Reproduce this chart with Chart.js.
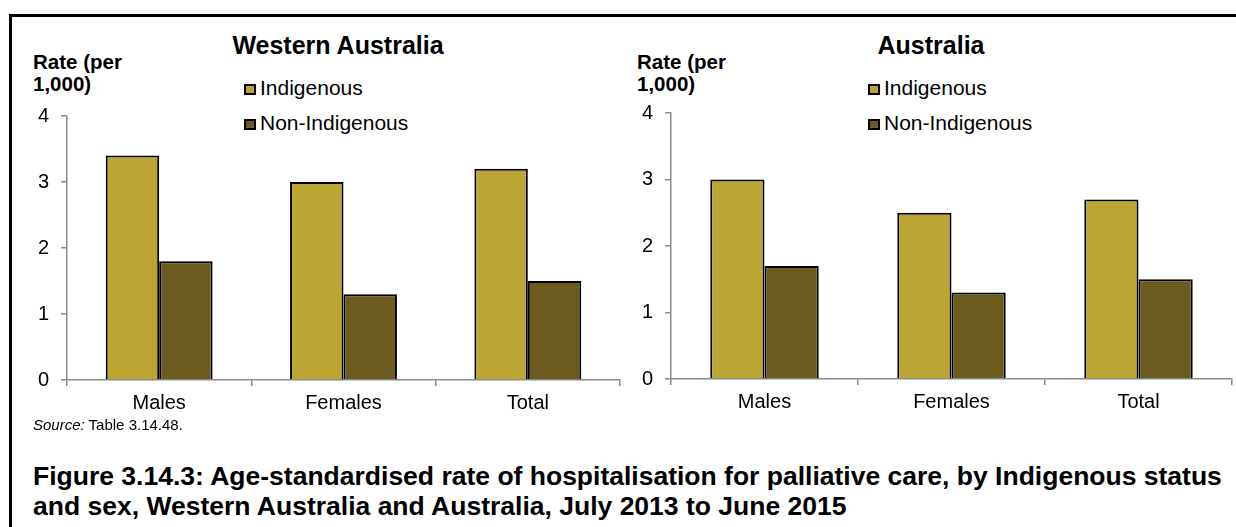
<!DOCTYPE html>
<html>
<head>
<meta charset="utf-8">
<title>Figure 3.14.3</title>
<script src="https://cdn.jsdelivr.net/npm/chart.js"></script>
<style>
  body { margin: 0; background: #fff; font-family: "Liberation Sans", Arial, sans-serif; }
  #page { position: relative; width: 1236px; height: 527px; overflow: hidden; background: #fff; }
  #frame { position: absolute; left: 9px; top: 14px; width: 1300px; height: 600px;
           border-top: 3px solid #000; border-left: 3px solid #000; }
  .txt { position: absolute; white-space: nowrap; color: #000; }
  .title { font-weight: bold; font-size: 25px; line-height: 25px; transform: translateX(-50%); }
  .ytitle { font-weight: bold; font-size: 20.5px; line-height: 22px; }
  .legtext { font-size: 21px; line-height: 21px; }
  .swatch { position: absolute; width: 12px; height: 11px; box-sizing: border-box; border: 2px solid #000; }
  .source { font-size: 15px; line-height: 15px; }
  .caption { font-weight: bold; font-size: 26.5px; line-height: 30px; }
  canvas { position: absolute; top: 0; }
</style>
</head>
<body>
<div id="page">
  <div id="frame"></div>

  <div class="txt title" style="left:338px; top:33px;">Western Australia</div>
  <div class="txt title" style="left:931px; top:33px;">Australia</div>

  <div class="txt ytitle" style="left:33px; top:51px;">Rate (per<br>1,000)</div>
  <div class="txt ytitle" style="left:637px; top:51px;">Rate (per<br>1,000)</div>

  <div id="legendLeft"></div>
  <div id="legendRight"></div>

  <canvas id="chartWA" width="625" height="430" style="left:0px;"></canvas>
  <canvas id="chartAUS" width="636" height="430" style="left:600px;"></canvas>

  <div class="txt source" style="left:33px; top:417px;"><i>Source:</i> Table 3.14.48.</div>
  <div class="txt caption" style="left:33px; top:461px;">Figure 3.14.3: Age-standardised rate of hospitalisation for palliative care, by Indigenous status<br>and sex, Western Australia and Australia, July 2013 to June 2015</div>
</div>

<script>
// Chart data
const categories = ["Males", "Females", "Total"];
const seriesNames = ["Indigenous", "Non-Indigenous"];
const seriesColors = ["#BBA634", "#6B5B1E"];

// Western Australia, rate per 1,000
const waIndigenous = [3.4, 3.0, 3.2];
const waNonIndigenous = [1.8, 1.3, 1.5];

// Australia, rate per 1,000
const ausIndigenous = [3.0, 2.5, 2.7];
const ausNonIndigenous = [1.7, 1.3, 1.5];

// Y axis range
const yMin = 0;
const yMax = 4;
const yStep = 1;

const FONT = "'Liberation Sans', Arial, sans-serif";
const AXIS_GREY = "#8C8C8C";

// Build legend from series names and colours
function buildLegend(containerId, left) {
  const box = document.getElementById(containerId);
  seriesNames.forEach((name, i) => {
    const sw = document.createElement("div");
    sw.className = "swatch";
    sw.style.left = left + "px";
    sw.style.top = (84 + i * 35) + "px";
    sw.style.background = seriesColors[i];
    box.appendChild(sw);

    const t = document.createElement("div");
    t.className = "txt legtext";
    t.style.left = (left + 16) + "px";
    t.style.top = (77 + i * 35) + "px";
    t.textContent = name;
    box.appendChild(t);
  });
}

// Draw one bar chart panel
function drawPanel(canvasId, indigenous, nonIndigenous, layout) {
  const ctx = document.getElementById(canvasId).getContext("2d");

  new Chart(ctx, {
    type: "bar",
    data: {
      labels: categories,
      datasets: [
        {
          label: seriesNames[0],
          data: indigenous,
          backgroundColor: seriesColors[0],
          borderColor: "#000",
          borderWidth: 2,
        },
        {
          label: seriesNames[1],
          data: nonIndigenous,
          backgroundColor: seriesColors[1],
          borderColor: "#000",
          borderWidth: 2,
        },
      ],
    },
    options: {
      responsive: false,
      animation: false,
      devicePixelRatio: 1,
      categoryPercentage: 0.58,
      barPercentage: 1.0,
      layout: {
        padding: { top: layout.padTop, right: layout.padRight, left: 0, bottom: 0 },
      },
      plugins: {
        legend: { display: false },
        title: { display: false },
        tooltip: { enabled: false },
      },
      scales: {
        x: {
          afterFit: (scale) => { scale.height = layout.xHeight; },
          grid: {
            offset: true,
            drawOnChartArea: false,
            drawTicks: true,
            tickLength: 6,
            color: AXIS_GREY,
            lineWidth: 1.5,
          },
          border: { display: true, color: AXIS_GREY, width: 1.5 },
          ticks: {
            padding: 5,
            color: "#000",
            font: { family: FONT, size: 20 },
          },
        },
        y: {
          min: yMin,
          max: yMax,
          afterFit: (scale) => { scale.width = layout.yWidth; },
          grid: {
            drawOnChartArea: false,
            drawTicks: true,
            tickLength: 6,
            color: AXIS_GREY,
            lineWidth: 1.5,
          },
          border: { display: true, color: AXIS_GREY, width: 1.5 },
          ticks: {
            stepSize: yStep,
            padding: 12,
            color: "#000",
            font: { family: FONT, size: 20 },
          },
        },
      },
    },
  });
}

buildLegend("legendLeft", 244);
buildLegend("legendRight", 868);

drawPanel("chartWA", waIndigenous, waNonIndigenous, {
  padTop: 116, padRight: 5, yWidth: 67, xHeight: 50,
});
drawPanel("chartAUS", ausIndigenous, ausNonIndigenous, {
  padTop: 113, padRight: 4, yWidth: 71, xHeight: 51,
});
</script>
</body>
</html>
